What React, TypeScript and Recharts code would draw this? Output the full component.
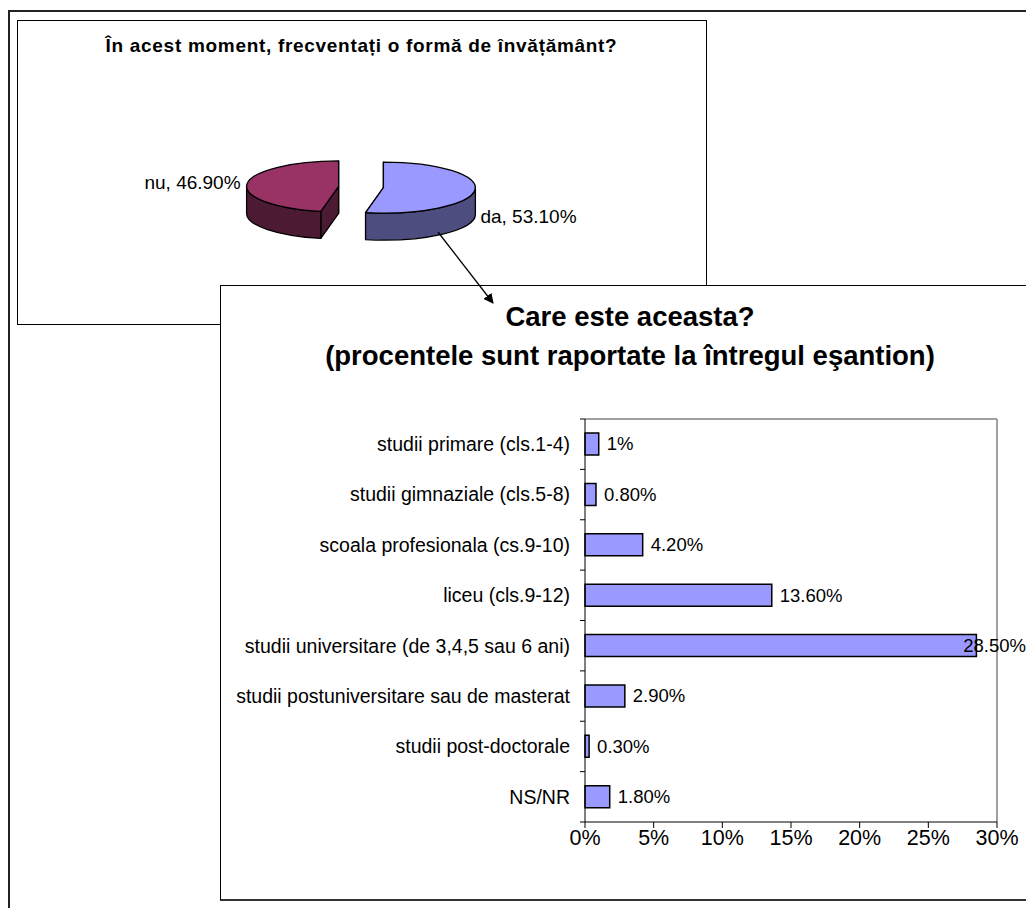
import React from "react";
import { PieChart, Pie, BarChart, Bar, XAxis, YAxis, LabelList, CartesianGrid } from "recharts";

// pie: "În acest moment, frecventați o formă de învățământ?"
const pieNames = ["da", "nu"];
const pieValues = [53.1, 46.9];

// bars: "Care este aceasta?"
const categories = [
  "studii primare (cls.1-4)",
  "studii gimnaziale (cls.5-8)",
  "scoala profesionala (cs.9-10)",
  "liceu (cls.9-12)",
  "studii universitare (de 3,4,5 sau 6 ani)",
  "studii postuniversitare sau de masterat",
  "studii post-doctorale",
  "NS/NR",
];
const barValues = [1, 0.8, 4.2, 13.6, 28.5, 2.9, 0.3, 1.8];
const barLabels = ["1%", "0.80%", "4.20%", "13.60%", "28.50%", "2.90%", "0.30%", "1.80%"];
const xTicks = [0, 5, 10, 15, 20, 25, 30];

const FONT = '"Liberation Sans", Arial, sans-serif';
const TOP_COLORS = ["#9999FF", "#993366"];
const SIDE_COLORS = ["#4D4D80", "#4D1A33"];
const TILT = 0.277;
const DEPTH = 27;
const EXPLODE = 22.5;
const BAR_W = 814;
const TICK_SIZE = 6;
const TICK_MARGIN = 9;

const pieData = pieNames.map((name, i) => ({ name, value: pieValues[i] }));
const barData = categories.map((name, i) => ({ name, value: barValues[i], label: barLabels[i] }));

// rough Arial advance widths, only used to keep the last value label inside the box
function textWidth(s: string, fs: number) {
  let em = 0;
  for (const ch of s) em += ch === "%" ? 0.889 : ch === "." ? 0.278 : 0.556;
  return em * fs;
}

// draws each pie slice as a flattened, exploded 3D wedge
function Slice3D(props: any) {
  const { cx, cy, outerRadius, startAngle, endAngle, midAngle, index } = props;
  const rad = Math.PI / 180;
  const ox = cx + EXPLODE * Math.cos(midAngle * rad);
  const oy = cy - EXPLODE * Math.sin(midAngle * rad) * TILT;
  const rx = outerRadius;
  const ry = outerRadius * TILT;
  const pt = (a: number, dy = 0) => `${ox + rx * Math.cos(a * rad)},${oy - ry * Math.sin(a * rad) + dy}`;
  const hi = Math.max(startAngle, endAngle);
  const lo = Math.min(startAngle, endAngle);

  const faces = [hi, lo].map((a) => `M${ox},${oy} L${pt(a)} L${pt(a, DEPTH)} L${ox},${oy + DEPTH} Z`);

  const walls: string[] = [];
  for (let k = -2; k <= 1; k++) {
    const b0 = Math.min(hi, 360 * k);
    const b1 = Math.max(lo, -180 + 360 * k);
    if (b0 > b1) {
      const large = b0 - b1 > 180 ? 1 : 0;
      walls.push(
        `M${pt(b0)} A${rx},${ry} 0 ${large} 1 ${pt(b1)} L${pt(b1, DEPTH)} A${rx},${ry} 0 ${large} 0 ${pt(b0, DEPTH)} Z`
      );
    }
  }
  const large = hi - lo > 180 ? 1 : 0;
  const top = `M${ox},${oy} L${pt(hi)} A${rx},${ry} 0 ${large} 1 ${pt(lo)} Z`;

  const left = Math.cos(midAngle * rad) < 0;
  const text = `${props.name}, ${Number(props.value).toFixed(2)}%`;

  const line = { stroke: "#000", strokeWidth: 1.3, strokeLinejoin: "round" as const };
  return (
    <g>
      {faces.map((d, i) => (
        <path key={"f" + i} d={d} fill={SIDE_COLORS[index]} {...line} />
      ))}
      {walls.map((d, i) => (
        <path key={"w" + i} d={d} fill={SIDE_COLORS[index]} {...line} />
      ))}
      <path d={top} fill={TOP_COLORS[index]} {...line} />
      <text
        x={left ? ox - rx - 6 : ox + rx + 5}
        y={left ? oy + 3 : oy + 35}
        textAnchor={left ? "end" : "start"}
        fontSize={19}
        fontFamily={FONT}
        fill="#000"
      >
        {text}
      </text>
    </g>
  );
}

function CategoryTick(props: any) {
  const { x, y, payload, index, visibleTicksCount } = props;
  const axisX = x + TICK_SIZE + TICK_MARGIN;
  const half = payload.offset || 0;
  return (
    <g>
      <line x1={axisX - 5} x2={axisX} y1={y - half} y2={y - half} stroke="#000" />
      {index === visibleTicksCount - 1 && (
        <line x1={axisX - 5} x2={axisX} y1={y + half} y2={y + half} stroke="#000" />
      )}
      <text x={x} y={y} dy="0.35em" textAnchor="end" fontSize={19.5} fontFamily={FONT} fill="#000">
        {payload.value}
      </text>
    </g>
  );
}

function ValueLabel(props: any) {
  const { x, y, width, height, value } = props;
  const fs = 18.5;
  const w = textWidth(String(value), fs);
  let tx = x + width + 8;
  if (tx + w > BAR_W - 9) tx = BAR_W - 9 - w;
  return (
    <text x={tx} y={y + height / 2} dy="0.35em" fontSize={fs} fontFamily={FONT} fill="#000">
      {value}
    </text>
  );
}

export default function App() {
  return (
    <div style={{ position: "relative", width: 1026, height: 900, overflow: "hidden", fontFamily: FONT, background: "#fff" }}>
      {/* outer frame */}
      <div style={{ position: "absolute", left: 0, top: 2, width: 2000, height: 2000, borderLeft: "2px solid #222", borderTop: "2px solid #222" }} />

      {/* pie box */}
      <div style={{ position: "absolute", left: 9, top: 12, width: 688, height: 303, border: "1px solid #000", background: "#fff" }}>
        <PieChart width={688} height={303}>
          <Pie
            data={pieData}
            dataKey="value"
            nameKey="name"
            cx={338}
            cy={161}
            outerRadius={92}
            startAngle={90}
            endAngle={-270}
            fill="none"
            stroke="none"
            label={Slice3D}
            labelLine={false}
            isAnimationActive={false}
          />
        </PieChart>
      </div>

      {/* bar box */}
      <div style={{ position: "absolute", left: 212, top: 277, width: BAR_W + 20, height: 613, border: "1px solid #000", borderBottom: "2px solid #333", background: "#fff" }}>
        <BarChart
          width={BAR_W}
          height={613}
          data={barData}
          layout="vertical"
          margin={{ top: 133, right: 38, bottom: 47, left: 0 }}
          barCategoryGap={0}
        >
          <CartesianGrid
            stroke="#808080"
            strokeWidth={1.5}
            horizontalCoordinatesGenerator={({ offset }: any) => [offset.top]}
            verticalCoordinatesGenerator={({ offset }: any) => [offset.left + offset.width]}
          />
          <XAxis
            type="number"
            domain={[0, 30]}
            ticks={xTicks}
            interval={0}
            height={30}
            tickFormatter={(v) => `${v}%`}
            tick={{ fontSize: 21.5, fill: "#000", fontFamily: FONT }}
            tickSize={6}
            tickMargin={2}
            tickLine={{ stroke: "#000" }}
            axisLine={{ stroke: "#000" }}
          />
          <YAxis
            type="category"
            dataKey="name"
            width={364}
            interval={0}
            tickSize={TICK_SIZE}
            tickMargin={TICK_MARGIN}
            tickLine={false}
            axisLine={{ stroke: "#000" }}
            tick={<CategoryTick />}
          />
          <Bar dataKey="value" fill="#9999FF" stroke="#000" strokeWidth={1.5} barSize={22} isAnimationActive={false}>
            <LabelList dataKey="label" content={<ValueLabel />} />
          </Bar>
        </BarChart>
      </div>

      {/* titles and arrow */}
      <svg width={1026} height={900} style={{ position: "absolute", left: 0, top: 0, pointerEvents: "none" }}>
        <defs>
          <marker id="arrowHead" markerWidth="10" markerHeight="10" refX="9" refY="5" orient="auto" markerUnits="userSpaceOnUse">
            <path d="M0,0 L10,5 L0,10 Z" fill="#000" />
          </marker>
        </defs>
        <text x={353.5} y={44} textAnchor="middle" fontSize={19} fontWeight="bold" letterSpacing={0.7} fontFamily={FONT}>
          În acest moment, frecventați o formă de învățământ?
        </text>
        <text x={622} y={318} textAnchor="middle" fontSize={27.5} fontWeight="bold" fontFamily={FONT}>
          Care este aceasta?
        </text>
        <text x={622} y={357} textAnchor="middle" fontSize={27.5} fontWeight="bold" fontFamily={FONT}>
          (procentele sunt raportate la întregul eşantion)
        </text>
        <line x1={430} y1={224} x2={485} y2={295} stroke="#000" strokeWidth={1.3} markerEnd="url(#arrowHead)" />
      </svg>
    </div>
  );
}
